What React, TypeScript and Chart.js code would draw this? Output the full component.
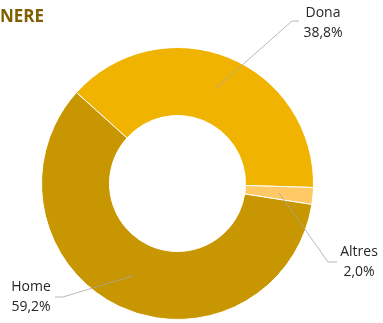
import React, { useEffect, useRef } from "react";
import { Chart, registerables } from "chart.js";

Chart.register(...registerables);

const title = "NERE";
const categories = ["Dona", "Altres", "Home"];
const values = [38.8, 2.0, 59.2];
const valueLabels = ["38,8%", "2,0%", "59,2%"];
const colors = ["#F0B400", "#FFC966", "#C89600"];

// label layout: text centre x, first line y, elbow point, line end
const labelLayout = [
  { tx: 323, ty: 13, ex: 292, ey: 21, lx: 299 },
  { tx: 359, ty: 252, ex: 328, ey: 262, lx: 337 },
  { tx: 31, ty: 287, ex: 63, ey: 297, lx: 55 },
];

const labelPlugin = {
  id: "labels",
  afterDraw(chart: any) {
    const ctx = chart.ctx;
    const meta = chart.getDatasetMeta(0);
    ctx.save();
    // title
    ctx.font = "bold 17px 'Open Sans'";
    ctx.fillStyle = "#7F6000";
    ctx.textAlign = "left";
    ctx.textBaseline = "alphabetic";
    ctx.fillText(title, 0, 22);

    meta.data.forEach((arc: any, i: number) => {
      const p = arc.getProps(["x", "y", "startAngle", "endAngle", "innerRadius", "outerRadius"], true);
      const mid = (p.startAngle + p.endAngle) / 2;
      const r = (p.innerRadius + p.outerRadius) / 2;
      const ax = p.x + Math.cos(mid) * r;
      const ay = p.y + Math.sin(mid) * r;
      const L = labelLayout[i];
      ctx.strokeStyle = "#A6A6A6";
      ctx.lineWidth = 0.8;
      ctx.beginPath();
      ctx.moveTo(ax, ay);
      ctx.lineTo(L.ex, L.ey);
      ctx.lineTo(L.lx, L.ey);
      ctx.stroke();
      ctx.font = "14px 'Open Sans'";
      ctx.fillStyle = "#262626";
      ctx.textAlign = "center";
      ctx.textBaseline = "middle";
      ctx.fillText(categories[i], L.tx, L.ty);
      ctx.fillText(valueLabels[i], L.tx, L.ty + 20);
    });
    ctx.restore();
  },
};

export default function App() {
  const ref = useRef<HTMLCanvasElement>(null);
  useEffect(() => {
    document.body.style.margin = "0";
    const chart = new Chart(ref.current!, {
      type: "doughnut",
      data: {
        labels: categories,
        datasets: [
          {
            data: values,
            backgroundColor: colors,
            borderColor: "#FFFFFF",
            borderWidth: 1,
            hoverOffset: 0,
          },
        ],
      },
      options: {
        animation: false,
        responsive: false,
        cutout: "50%",
        rotation: -48,
        layout: { padding: { left: 41, right: 69, top: 47, bottom: 3 } },
        plugins: { legend: { display: false }, tooltip: { enabled: false } },
      },
      plugins: [labelPlugin],
    });
    return () => chart.destroy();
  }, []);
  return (
    <div style={{ width: 383, height: 323 }}>
      <canvas ref={ref} width={383} height={323} style={{ display: "block" }} />
    </div>
  );
}
